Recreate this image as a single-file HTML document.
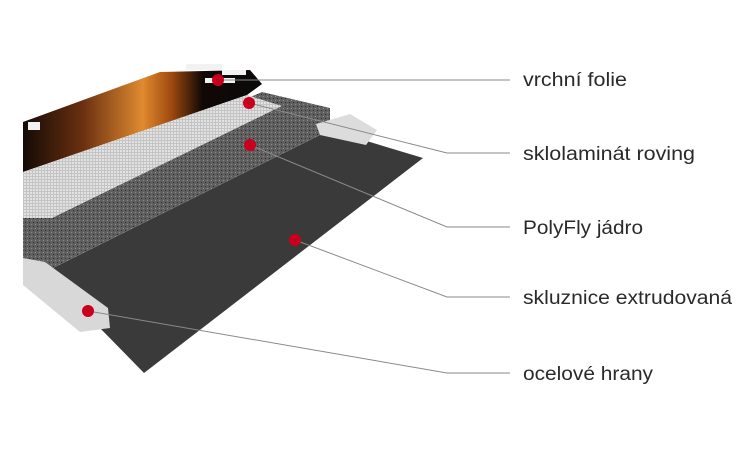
<!DOCTYPE html>
<html><head><meta charset="utf-8"><style>
html,body{margin:0;padding:0;background:#fff;}
svg{display:block;}
text{font-family:"Liberation Sans",sans-serif;font-size:19px;fill:#2a2a2a;}
</style></head><body>
<svg width="755" height="465" viewBox="0 0 755 465" xmlns="http://www.w3.org/2000/svg">
<defs>
<pattern id="grid" width="3" height="3" patternUnits="userSpaceOnUse">
<rect width="3" height="3" fill="#c4c4c4"/><rect width="2" height="2" fill="#e2e2e2"/>
</pattern>
<pattern id="foam" width="4" height="4" patternUnits="userSpaceOnUse">
<rect width="4" height="4" fill="#606060"/><rect x="1" y="2" width="1" height="1" fill="#2a2a2a"/><rect x="3" y="0" width="1" height="1" fill="#8a8a8a"/>
</pattern>
<linearGradient id="fire" x1="0" y1="0" x2="1" y2="0">
<stop offset="0" stop-color="#140a06"/><stop offset="0.25" stop-color="#6a3010"/><stop offset="0.5" stop-color="#e08a30"/><stop offset="0.62" stop-color="#a04a10"/><stop offset="0.75" stop-color="#120806"/><stop offset="1" stop-color="#0a0a0a"/>
</linearGradient>
</defs>
<!-- black base -->
<polygon points="45,272 330,130 423,158 144,373" fill="#3a3a3a"/>
<!-- foam -->
<polygon points="23,195 262,92 330,108 330,130 45,272 23,272" fill="url(#foam)"/>
<!-- foil image -->
<polygon points="23,122 160,72 250,70 262,84 247,95 23,172" fill="url(#fire)"/>
<g fill="#f2f2f2">
<rect x="186" y="64" width="36" height="6"/><rect x="222" y="70" width="24" height="5"/>
<rect x="205" y="78" width="30" height="5"/>
<rect x="28" y="122" width="12" height="8"/>
</g>
<!-- fiberglass strip -->
<polygon points="23,172 247,95 282,106 52,218 23,218" fill="url(#grid)"/>
<!-- right steel -->
<polygon points="316,124 350,114 377,130 366,145 320,135" fill="#dcdcdc"/>
<!-- left steel -->
<polygon points="23,258 45,262 108,308 110,328 80,332 23,285" fill="#d8d8d8"/>
<!-- connectors -->
<g stroke="#8a8a8a" stroke-width="1" fill="none">
<polyline points="218,80 510,80"/>
<polyline points="249,103 447,153 510,153"/>
<polyline points="250,145 447,227 510,227"/>
<polyline points="295,240 447,297 510,297"/>
<polyline points="88,311 447,373 510,373"/>
</g>
<g fill="#c8001e">
<circle cx="218" cy="80" r="6"/><circle cx="249" cy="103" r="6"/>
<circle cx="250" cy="145" r="6"/><circle cx="295" cy="240" r="6"/>
<circle cx="88" cy="311" r="6"/>
</g>
<text x="523" y="86" textLength="104" lengthAdjust="spacingAndGlyphs">vrchní folie</text>
<text x="523" y="160" textLength="172" lengthAdjust="spacingAndGlyphs">sklolaminát roving</text>
<text x="523" y="234" textLength="120" lengthAdjust="spacingAndGlyphs">PolyFly jádro</text>
<text x="523" y="304" textLength="209" lengthAdjust="spacingAndGlyphs">skluznice extrudovaná</text>
<text x="523" y="380" textLength="130" lengthAdjust="spacingAndGlyphs">ocelové hrany</text>
</svg>
</body></html>
